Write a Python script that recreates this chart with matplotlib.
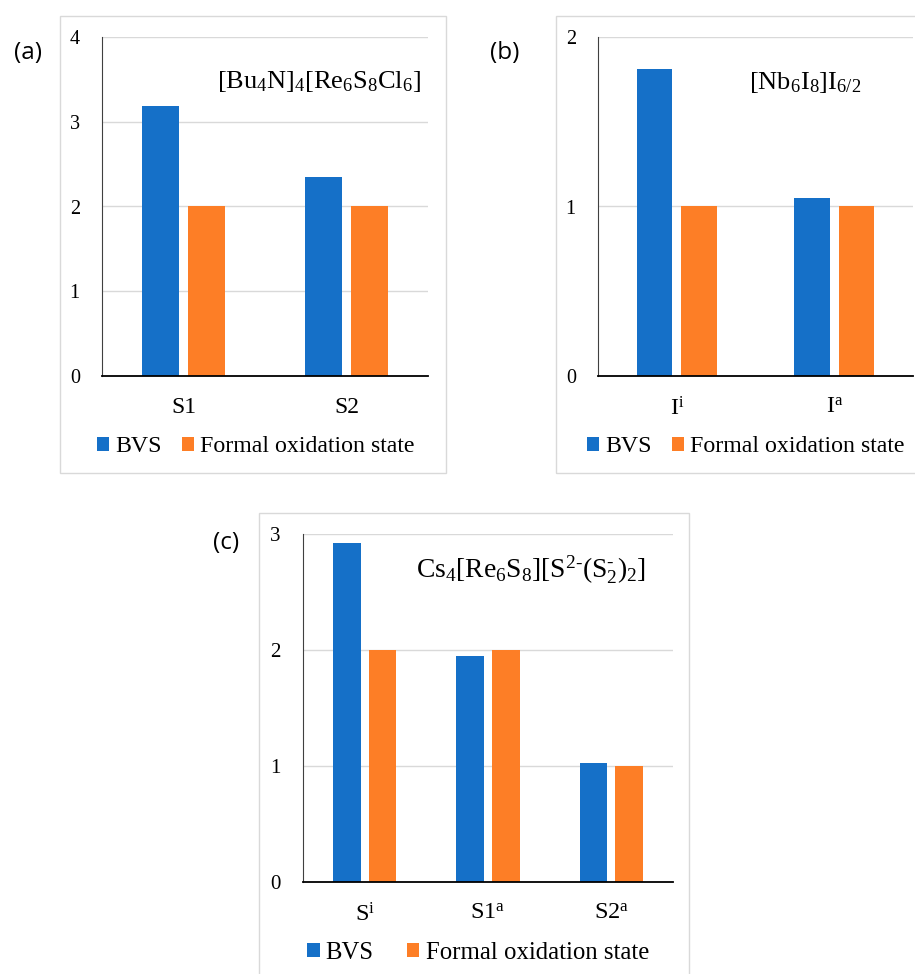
import matplotlib
matplotlib.use("Agg")
import matplotlib.pyplot as plt
from matplotlib.patches import Rectangle
import numpy as np

plt.rcParams['font.family'] = ['Liberation Serif', 'DejaVu Serif']
plt.rcParams['mathtext.fontset'] = 'custom'
plt.rcParams['mathtext.rm'] = 'Liberation Serif'
plt.rcParams['mathtext.it'] = 'Liberation Serif:italic'
plt.rcParams['mathtext.bf'] = 'Liberation Serif:bold'

# ---- data ----
series_names = ["BVS", "Formal oxidation state"]

a_categories = ["S1", "S2"]
a_bvs = [3.18, 2.35]
a_formal = [2.0, 2.0]
a_title = r"$\mathrm{[Bu_4N]_4[Re_6S_8Cl_6]}$"
a_yticks = [0, 1, 2, 3, 4]

b_categories = [r"$\mathrm{I^i}$", r"$\mathrm{I^a}$"]
b_bvs = [1.81, 1.05]
b_formal = [1.0, 1.0]
b_title = r"$\mathrm{[Nb_6I_8]I_{6/2}}$"
b_yticks = [0, 1, 2]

c_categories = [r"$\mathrm{S^i}$", r"$\mathrm{S1^a}$", r"$\mathrm{S2^a}$"]
c_bvs = [2.92, 1.95, 1.03]
c_formal = [2.0, 2.0, 1.0]
c_title = "$\\mathrm{Cs_4[Re_6S_8][S^{2\u2010}(S^{\u2010}_2)_2]}$"
c_yticks = [0, 1, 2, 3]

BLUE = "#1570c8"
ORANGE = "#fd7e26"
GRID = "#d9d9d9"

W, H = 915, 974
fig = plt.figure(figsize=(W / 100, H / 100), dpi=100)


def fx(px):
    return px / W


def fy(py):
    return 1 - py / H


def panel(rect_px, cats, bvs, formal, yticks, width, offset, tick_fs, cat_fs):
    l, t, r, b = rect_px
    ax = fig.add_axes([fx(l), fy(b), fx(r - l), (b - t) / H])
    x = np.arange(len(cats))
    ax.bar(x - offset, bvs, width, color=BLUE, zorder=3, label=series_names[0])
    ax.bar(x + offset, formal, width, color=ORANGE, zorder=3, label=series_names[1])
    ax.set_xlim(-0.5, len(cats) - 0.5)
    ax.set_ylim(yticks[0], yticks[-1])
    ax.set_yticks(yticks)
    ax.set_yticklabels([str(v) for v in yticks], fontsize=tick_fs)
    ax.set_xticks(x)
    ax.set_xticklabels(cats, fontsize=cat_fs)
    ax.tick_params(axis='both', length=0)
    ax.tick_params(axis='y', pad=16)
    ax.tick_params(axis='x', pad=15)
    ax.grid(axis='y', color=GRID, lw=1.0, zorder=0)
    ax.set_axisbelow(True)
    for s in ['top', 'right']:
        ax.spines[s].set_visible(False)
    ax.spines['left'].set_color('#404040')
    ax.spines['left'].set_linewidth(0.8)
    ax.spines['bottom'].set_color('black')
    ax.spines['bottom'].set_linewidth(1.3)
    ax.spines['bottom'].set_zorder(4)
    ax.patch.set_alpha(0)
    return ax


def box(l, t, r, b):
    fig.patches.append(Rectangle((fx(l), fy(b)), fx(r - l), (b - t) / H,
                                 transform=fig.transFigure, fill=False,
                                 edgecolor=GRID, lw=1.0, zorder=0))


def legend(ax, cx, cy, fs, colsp):
    ax.legend(loc='center', bbox_to_anchor=(fx(cx), fy(cy)),
              bbox_transform=fig.transFigure, ncol=2, frameon=False,
              fontsize=fs, handlelength=0.5, handleheight=0.5,
              handletextpad=0.25, columnspacing=colsp, borderpad=0)


# boxes
box(60, 16, 446, 473)
box(556, 16, 920, 473)
box(259, 513, 689, 980)

ax_a = panel((102, 37, 428, 376), a_categories, a_bvs, a_formal, a_yticks,
             0.223, 0.141, 14.5, 17)
ax_b = panel((598, 37, 913, 376), b_categories, b_bvs, b_formal, b_yticks,
             0.223, 0.141, 14.5, 17)
ax_c = panel((303, 534, 673, 882), c_categories, c_bvs, c_formal, c_yticks,
             0.225, 0.145, 15, 17.5)

legend(ax_a, 256, 447, 17.2, 0.85)
legend(ax_b, 746, 447, 17.2, 0.85)
legend(ax_c, 478, 953, 17.8, 1.35)

# formula labels
fig.text(fx(319), fy(88), a_title, fontsize=19, ha='center', va='baseline')
fig.text(fx(805), fy(89), b_title, fontsize=19, ha='center', va='baseline')
fig.text(fx(531), fy(577), c_title, fontsize=19.8, ha='center', va='baseline')

# panel letters
for txt, x, y in [("(a)", 28, 53), ("(b)", 505, 53), ("(c)", 226, 543)]:
    fig.text(fx(x), fy(y), txt, fontsize=17.5, ha='center', va='center',
             family=['Open Sans', 'DejaVu Sans'])

fig.savefig("out.png", dpi=100)
